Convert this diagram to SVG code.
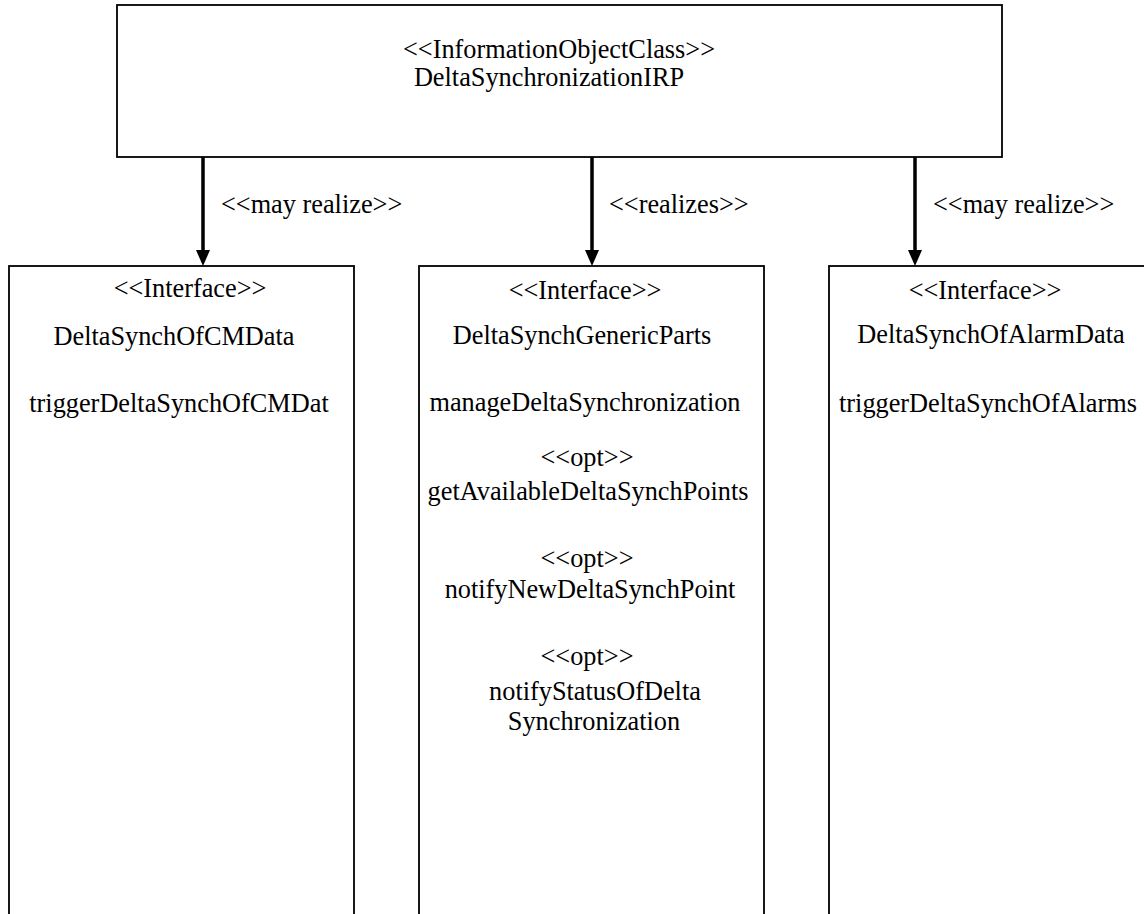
<svg xmlns="http://www.w3.org/2000/svg" width="1144" height="914" viewBox="0 0 1144 914">
<style>
  .box { fill: #ffffff; stroke: #000000; stroke-width: 1.8; }
  .t { font-family: "Liberation Serif", "Times New Roman", serif; font-size: 26.3px; fill: #000000; text-anchor: middle; }
  .lbl { font-family: "Liberation Serif", "Times New Roman", serif; font-size: 26.3px; fill: #000000; text-anchor: start; }
  .conn { stroke: #000000; stroke-width: 3.5; fill: none; }
</style>
<defs>
  <marker id="arrow" markerUnits="userSpaceOnUse" markerWidth="16" markerHeight="14" refX="0" refY="7" orient="auto" viewBox="0 0 16 14">
    <path d="M0,0 L16,7 L0,14 Z" fill="#000000"/>
  </marker>
</defs>
<rect width="1144" height="914" fill="#ffffff"/>

<g id="DeltaSynchronizationIRP">
  <rect class="box" x="117" y="5" width="885" height="152"/>
  <text class="t" x="559" y="58">&lt;&lt;InformationObjectClass&gt;&gt;</text>
  <text class="t" x="549" y="86">DeltaSynchronizationIRP</text>
</g>

<g id="DeltaSynchOfCMData">
  <rect class="box" x="9" y="266" width="345" height="660"/>
  <text class="t" x="190" y="297">&lt;&lt;Interface&gt;&gt;</text>
  <text class="t" x="174" y="345">DeltaSynchOfCMData</text>
  <text class="t" x="179" y="412">triggerDeltaSynchOfCMDat</text>
</g>

<g id="DeltaSynchGenericParts">
  <rect class="box" x="419" y="266" width="345" height="660"/>
  <text class="t" x="585" y="299">&lt;&lt;Interface&gt;&gt;</text>
  <text class="t" x="582" y="344">DeltaSynchGenericParts</text>
  <text class="t" x="585" y="411">manageDeltaSynchronization</text>
  <text class="t" x="587" y="466">&lt;&lt;opt&gt;&gt;</text>
  <text class="t" x="588" y="500">getAvailableDeltaSynchPoints</text>
  <text class="t" x="587" y="567">&lt;&lt;opt&gt;&gt;</text>
  <text class="t" x="590" y="598">notifyNewDeltaSynchPoint</text>
  <text class="t" x="587" y="665">&lt;&lt;opt&gt;&gt;</text>
  <text class="t" x="595" y="700">notifyStatusOfDelta</text>
  <text class="t" x="594" y="730">Synchronization</text>
</g>

<g id="DeltaSynchOfAlarmData">
  <rect class="box" x="829" y="266" width="345" height="660"/>
  <text class="t" x="985" y="299">&lt;&lt;Interface&gt;&gt;</text>
  <text class="t" x="991" y="343">DeltaSynchOfAlarmData</text>
  <text class="t" x="988" y="412">triggerDeltaSynchOfAlarms</text>
</g>

<g id="connectors">
  <line class="conn" x1="203" y1="157" x2="203" y2="250" marker-end="url(#arrow)"/>
  <line class="conn" x1="592" y1="157" x2="592" y2="250" marker-end="url(#arrow)"/>
  <line class="conn" x1="915" y1="157" x2="915" y2="250" marker-end="url(#arrow)"/>
  <text class="lbl" x="221" y="213">&lt;&lt;may realize&gt;&gt;</text>
  <text class="lbl" x="609" y="213">&lt;&lt;realizes&gt;&gt;</text>
  <text class="lbl" x="933" y="213">&lt;&lt;may realize&gt;&gt;</text>
</g>
</svg>
